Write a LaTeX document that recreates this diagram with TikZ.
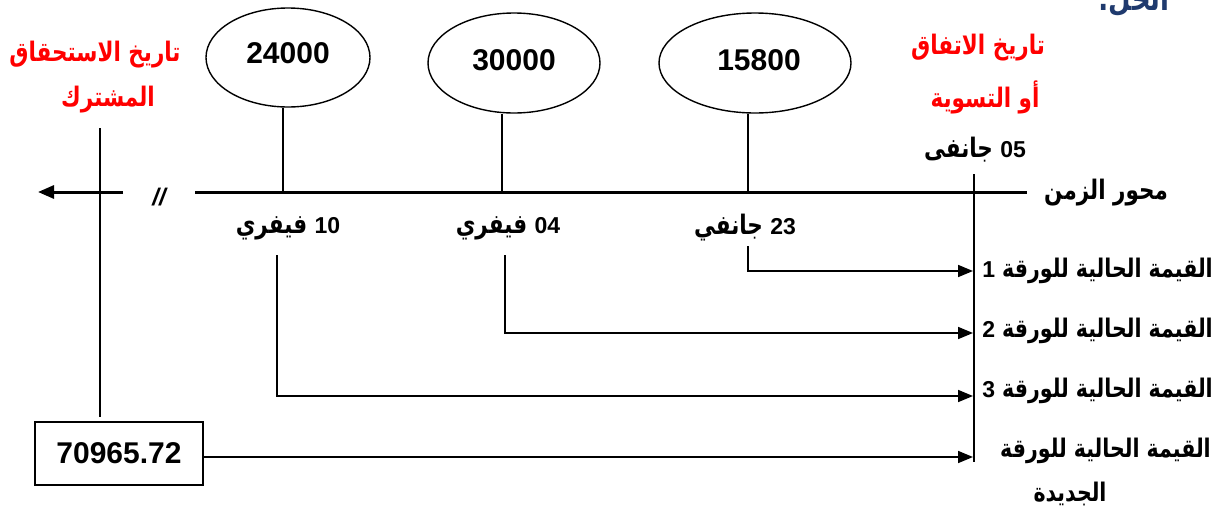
\documentclass[tikz,border=0pt]{standalone}
\usepackage{graphicx}
\usepackage{fontspec}
\setmainfont{Liberation Sans}
\newfontfamily\arabicfont[Script=Arabic]{DejaVu Sans}
\TeXXeTstate=1
\usetikzlibrary{arrows.meta,shapes.geometric}
\definecolor{titleblue}{HTML}{1F3A6E}
\newcommand{\AR}[1]{\scalebox{1}[1.25]{\beginR #1\endR}}
\newcommand{\LN}[1]{{\rmfamily\bfseries\fontsize{23}{25}\selectfont #1}}
\begin{document}
\begin{tikzpicture}[x=1pt,y=-1pt,
  num/.style={font=\fontsize{30}{32}\selectfont\bfseries, inner sep=0pt},
  artext/.style={font=\fontsize{21.5}{24}\selectfont\arabicfont\bfseries, inner sep=0pt},
  rowtext/.style={font=\fontsize{20.5}{24}\selectfont\arabicfont\bfseries, inner sep=0pt},
  redtext/.style={artext, text=red},
  bubble/.style={ellipse, draw, line width=1.4pt, num},
  axisline/.style={line width=3pt},
  stem/.style={line width=1.7pt},
  conn/.style={line width=1.7pt},
  arrowconn/.style={conn, -{Triangle[length=15pt,width=12pt]}},
  valbox/.style={draw, line width=1.7pt, minimum width=168pt, minimum height=63pt, num}
]
\clip (0,0) rectangle (1221,509);
\fill[white] (0,0) rectangle (1221,509);

% title (cut at top, as in the reference)
\node[text=titleblue, font=\fontsize{26}{28}\selectfont\arabicfont\bfseries, inner sep=0pt] (title) at (1134,1) {\AR{الحل:}};

% ellipses
\node[bubble, minimum width=164pt, minimum height=99pt] (e1) at (288,57.5) {};
\node[num] (v1) at (288,53) {24000};
\node[bubble, minimum width=172pt, minimum height=100pt] (e2) at (514,63) {};
\node[num] (v2) at (514,60) {30000};
\node[bubble, minimum width=192pt, minimum height=100pt] (e3) at (755,63) {};
\node[num] (v3) at (759,60) {15800};

% axis
\coordinate (axL) at (195,192);
\coordinate (axR) at (1027,192);
\coordinate (arL) at (123,192);
\coordinate (arT) at (38,192);
\draw[axisline] (axL) -- (axR);
\draw[axisline, -{Triangle[length=16pt,width=13pt]}] (arL) -- (arT);
\node[font=\fontsize{24}{26}\selectfont\bfseries\itshape, inner sep=0pt] (brk) at (159,197) {//};
\node[artext, anchor=east] (axlab) at (1168,193) {\AR{محور الزمن}};

% stems
\coordinate (s1) at (283,192);
\coordinate (s2) at (502,192);
\coordinate (s3) at (748,192);
\draw[stem] (s1) -- (s1 |- e1.south);
\draw[stem] (s2) -- (s2 |- e2.south);
\draw[stem] (s3) -- (s3 |- e3.south);

% date labels (Arabic word on the left, number on the right)
\node[artext] (d1) at (288,228) {\AR{فيفري} \LN{10}};
\node[artext] (d2) at (508,228) {\AR{فيفري} \LN{04}};
\node[artext] (d3) at (745,228) {\AR{جانفي} \LN{23}};

% red labels
\node[redtext] (l1) at (95,55) {\AR{تاريخ الاستحقاق}};
\node[redtext] (l2) at (108,100) {\AR{المشترك}};
\node[redtext] (r1) at (978,48) {\AR{تاريخ الاتفاق}};
\node[redtext] (r2) at (985,97) {\AR{أو التسوية}};
\node[artext] (d0) at (975,150) {\AR{جانفى} \LN{05}};

% vertical lines
\coordinate (vlT) at (100,128);
\node[valbox] (box) at (119,453.5) {70965.72};
\draw[conn] (vlT) -- ([yshift=4pt]vlT |- box.north);
\coordinate (vrT) at (974,174);
\coordinate (vrB) at (974,462);
\draw[conn] (vrT) -- (vrB);

% connectors
\coordinate (c1) at (748,246);
\coordinate (c2) at (505,255);
\coordinate (c3) at (277,255);
\coordinate (t1) at (973,271);
\coordinate (t2) at (973,333);
\coordinate (t3) at (973,396);
\coordinate (t4) at (973,457);
\draw[arrowconn] (c1) |- (t1);
\draw[arrowconn] (c2) |- (t2);
\draw[arrowconn] (c3) |- (t3);
\draw[arrowconn] (box.east |- t4) -- (t4);

% right labels (number on the left, after the Arabic phrase)
\node[rowtext, anchor=east] (p1) at (1213,271) {\LN{1} \AR{القيمة الحالية للورقة}};
\node[rowtext, anchor=east] (p2) at (1213,331) {\LN{2} \AR{القيمة الحالية للورقة}};
\node[rowtext, anchor=east] (p3) at (1213,391) {\LN{3} \AR{القيمة الحالية للورقة}};
\node[rowtext, anchor=east] (p4) at (1211,451) {\AR{القيمة الحالية للورقة}};
\node[rowtext] (p5) at (1070,494) {\AR{الجديدة}};
\end{tikzpicture}
\end{document}
